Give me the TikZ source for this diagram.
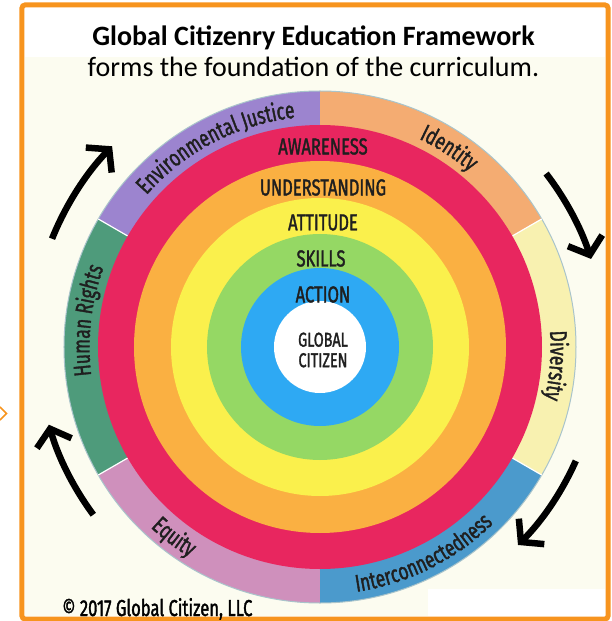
\documentclass[tikz,border=0pt]{standalone}
\usepackage{fontspec}
\setmainfont{Carlito}
\newfontfamily\narrowfont[FakeStretch=0.72, FakeBold=1.5]{Fira Sans}
\usetikzlibrary{arrows.meta,decorations.text}

\definecolor{frameorange}{HTML}{F7941E}
\definecolor{cream}{HTML}{FCFCF0}
\definecolor{ringred}{HTML}{E8265F}
\definecolor{ringorange}{HTML}{FAB042}
\definecolor{ringyellow}{HTML}{FAF04C}
\definecolor{ringgreen}{HTML}{95D864}
\definecolor{ringblue}{HTML}{2EA9F3}
\definecolor{segpurple}{HTML}{9C84CF}
\definecolor{segpeach}{HTML}{F4AC72}
\definecolor{segyellow}{HTML}{F8F1B0}
\definecolor{segblue}{HTML}{4B9ACC}
\definecolor{segpink}{HTML}{CF90BC}
\definecolor{seggreen}{HTML}{4E9B7B}
\definecolor{ringedge}{HTML}{A9C4CB}

\newcommand{\ringlabel}{\narrowfont\fontsize{24}{24}\selectfont\color{black!88}}

\tikzstyle{head}=[inner sep=0pt, anchor=base, font=\fontsize{28}{28}\selectfont]
\tikzstyle{lvl}=[inner sep=0pt, text=black!88, font=\narrowfont\fontsize{23}{23}\selectfont]
\tikzstyle{core}=[inner sep=0pt, align=center, text=black!88, font=\narrowfont\fontsize{20}{20.5}\selectfont]
\tikzstyle{sep}=[draw=white, line width=1.2pt]
\tikzstyle{cyc}=[line width=6.5pt, -{Straight Barb[length=15pt,width=36pt]}]

\begin{document}
\begin{tikzpicture}[x=1pt, y=1pt]
				\useasboundingbox (-320,-274) rectangle (291,347);
				
				%The frame
				\fill[cream] (-295,290) rectangle (285,-269);
				\fill[white] (108,-242) rectangle (285,-269);
				\draw[frameorange, line width=5pt, rounded corners=3pt] (-298,342) rectangle (288,-272);
				\draw[frameorange, line width=1.5pt] (-320,-60) -- (-313.5,-66.5) -- (-320,-73);
				
				%The title
				\draw (-6.5,301) node[head] (title) {\bfseries Global Citizenry Education Framework};
				\draw (-6.5,270) node[head] (subtitle) {forms the foundation of the curriculum.};
				
				%The outer ring
				\fill[segpeach] (0,0) -- (30:256) arc[start angle=30, end angle=90, radius=256] -- cycle;
				\fill[segyellow] (0,0) -- (-30:256) arc[start angle=-30, end angle=30, radius=256] -- cycle;
				\fill[segblue] (0,0) -- (-90:256) arc[start angle=-90, end angle=-30, radius=256] -- cycle;
				\fill[segpink] (0,0) -- (210:256) arc[start angle=210, end angle=270, radius=256] -- cycle;
				\fill[seggreen] (0,0) -- (150:256) arc[start angle=150, end angle=210, radius=256] -- cycle;
				\fill[segpurple] (0,0) -- (90:256) arc[start angle=90, end angle=150, radius=256] -- cycle;
				\draw[ringedge, line width=1pt] (0,0) circle[radius=256];
				\draw[sep] (30:222) -- (30:256);
				\draw[sep] (-30:222) -- (-30:256);
				\draw[sep] (150:222) -- (150:256);
				\draw[sep] (210:222) -- (210:256);
				
				%The rings
				\fill[ringred] (0,0) circle[radius=222];
				\fill[ringorange] (0,0) circle[radius=186];
				\fill[ringyellow] (0,0) circle[radius=149];
				\fill[ringgreen] (0,0) circle[radius=113];
				\fill[ringblue] (0,0) circle[radius=79];
				\fill[white] (0,0) circle[radius=46];
				
				%The ring labels
				\path[decorate, decoration={text along path, text align=center, text={|\ringlabel|Environmental Justice}}]
					(157.5:230.5) arc[start angle=157.5, end angle=77.5, radius=230.5];
				\path[decorate, decoration={text along path, text align=center, text={|\ringlabel|Identity}}]
					(82:230.5) arc[start angle=82, end angle=32, radius=230.5];
				\path[decorate, decoration={text along path, text align=center, text={|\ringlabel|Diversity}}]
					(20:230.5) arc[start angle=20, end angle=-29, radius=230.5];
				\path[decorate, decoration={text along path, text align=center, text={|\ringlabel|Interconnectedness}}]
					(-88:247.5) arc[start angle=-88, end angle=-39, radius=247.5];
				\path[decorate, decoration={text along path, text align=center, text={|\ringlabel|Equity}}]
					(212:247.5) arc[start angle=212, end angle=253, radius=247.5];
				\path[decorate, decoration={text along path, text align=center, text={|\ringlabel|Human Rights}}]
					(200:230.5) arc[start angle=200, end angle=147, radius=230.5];
				
				%The levels
				\draw (3,200.5) node[lvl] (awareness) {AWARENESS};
				\draw (3,159.5) node[lvl] (understanding) {UNDERSTANDING};
				\draw (3,124.5) node[lvl] (attitude) {ATTITUDE};
				\draw (1,88.5) node[lvl] (skills) {SKILLS};
				\draw (3,52.5) node[lvl] (action) {ACTION};
				\draw (3,-3) node[core] (citizen) {GLOBAL\\CITIZEN};
				
				%The cycle arrows
				\draw[cyc] (158:289) arc[start angle=158, end angle=136, radius=289];
				\draw[cyc] (37.5:285) arc[start angle=37.5, end angle=18, radius=285];
				\draw[cyc] (-24:280) arc[start angle=-24, end angle=-45, radius=280];
				\draw[cyc] (216.5:282) arc[start angle=216.5, end angle=196, radius=282];
				
				%The copyright
				\draw (-258,-269) node[inner sep=0pt, anchor=base west, font=\narrowfont\fontsize{23}{23}\selectfont] (copy) {\copyright{} 2017 Global Citizen, LLC};
			\end{tikzpicture}
\end{document}
